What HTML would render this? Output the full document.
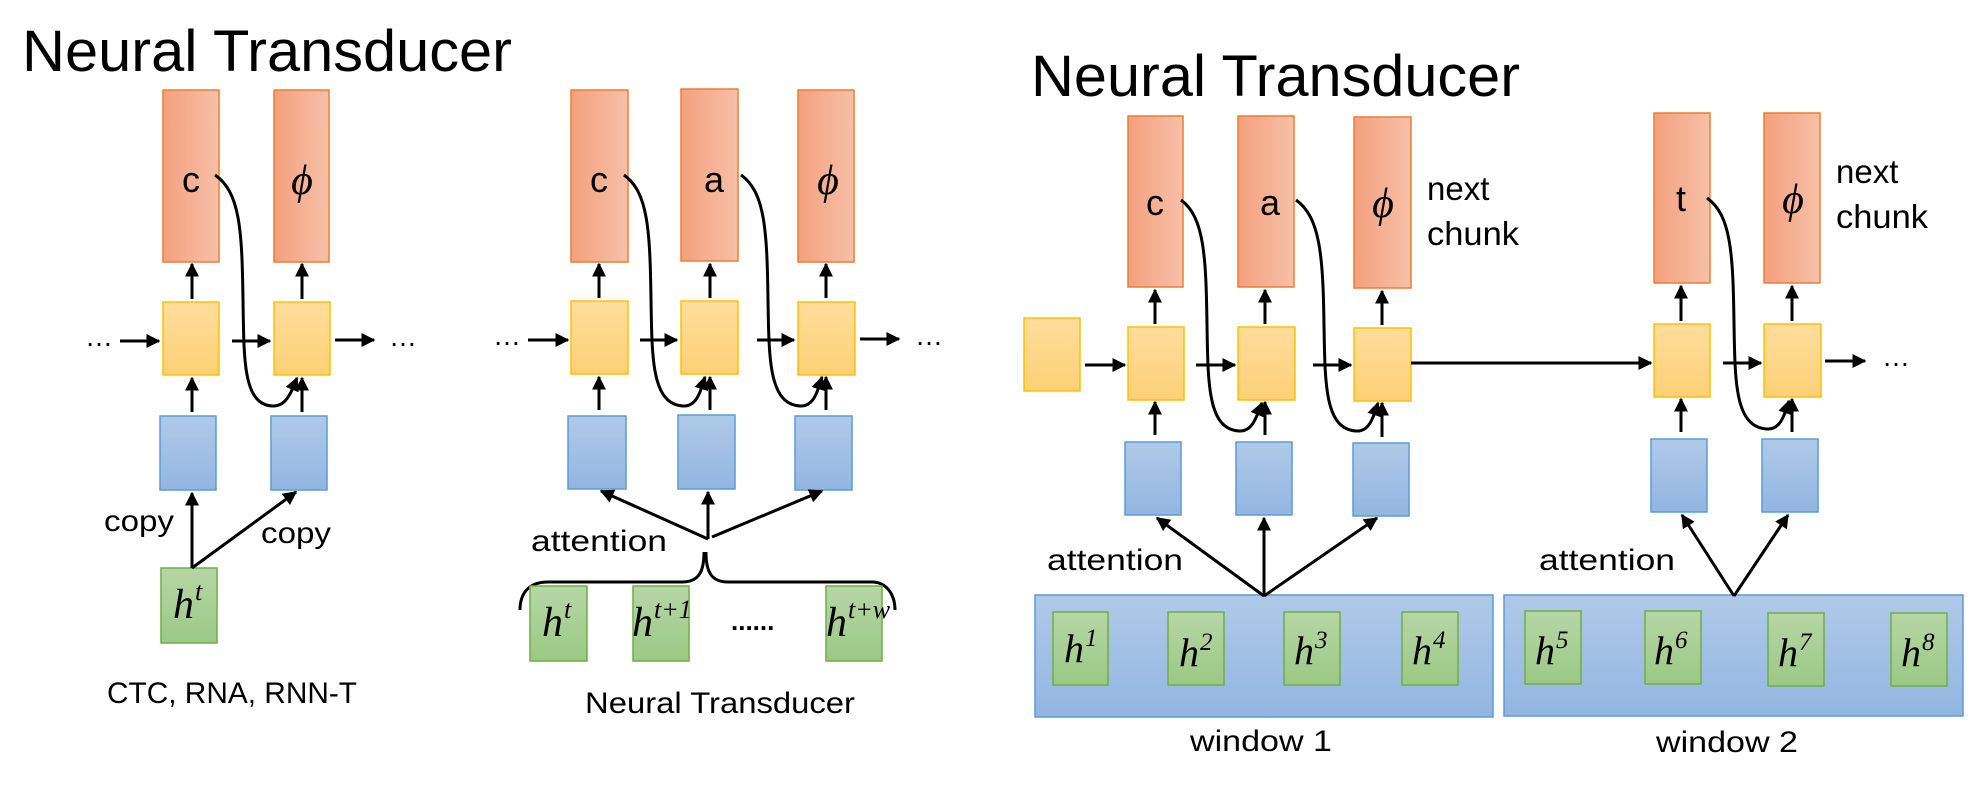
<!DOCTYPE html>
<html><head><meta charset="utf-8"><style>
html,body{margin:0;padding:0;background:#fff;}
svg{display:block}
.s{font-family:"Liberation Sans",sans-serif;fill:#000}
.m{font-family:"Liberation Serif",serif;font-style:italic;fill:#000}
</style></head><body>
<svg width="1972" height="792" viewBox="0 0 1972 792" xmlns="http://www.w3.org/2000/svg">
<defs>
<linearGradient id="go" x1="0" y1="0" x2="1" y2="0"><stop offset="0" stop-color="#f4a07e"/><stop offset="1" stop-color="#f6c0a8"/></linearGradient>
<linearGradient id="gy" x1="0" y1="0" x2="0" y2="1"><stop offset="0" stop-color="#fedd9c"/><stop offset="1" stop-color="#fdd077"/></linearGradient>
<linearGradient id="gb" x1="0" y1="0" x2="0" y2="1"><stop offset="0" stop-color="#b0c9e8"/><stop offset="1" stop-color="#92b6e1"/></linearGradient>
<linearGradient id="gg" x1="0" y1="0" x2="0" y2="1"><stop offset="0" stop-color="#b6d6a6"/><stop offset="1" stop-color="#9bc985"/></linearGradient>
<marker id="a" viewBox="0 0 10 10" refX="9" refY="5" markerWidth="14" markerHeight="14" markerUnits="userSpaceOnUse" orient="auto"><path d="M0,0 L10,5 L0,10 z" fill="#000"/></marker>
<style>
.o{fill:url(#go);stroke:#ed7d31;stroke-width:1.5}
.y{fill:url(#gy);stroke:#ffc000;stroke-width:1.5}
.b{fill:url(#gb);stroke:#5b9bd5;stroke-width:1.5}
.g{fill:url(#gg);stroke:#70ad47;stroke-width:1.5}
.l{stroke:#000;stroke-width:3;fill:none}
.ar{stroke:#000;stroke-width:3;fill:none;marker-end:url(#a)}
</style>
</defs>

<!-- ========== LEFT PANEL ========== -->
<text class="s" x="22" y="71" font-size="58" textLength="490" lengthAdjust="spacingAndGlyphs">Neural Transducer</text>

<rect class="o" x="163" y="90" width="56" height="172"/>
<rect class="o" x="274" y="90" width="55" height="172"/>
<text class="s" x="191" y="192" font-size="36" text-anchor="middle">c</text>
<text class="m" x="302" y="194" font-size="42" text-anchor="middle">ϕ</text>
<rect class="y" x="163" y="302" width="56" height="73"/>
<rect class="y" x="274" y="302" width="56" height="73"/>
<rect class="b" x="160" y="416" width="56" height="74"/>
<rect class="b" x="271" y="416" width="56" height="74"/>
<rect class="g" x="161" y="568" width="56" height="75"/>
<text class="m" x="173" y="618" font-size="42">h</text><text class="m" x="195" y="600" font-size="26">t</text>

<line class="ar" x1="192" y1="299" x2="192" y2="264"/>
<line class="ar" x1="302" y1="299" x2="302" y2="264"/>
<line class="ar" x1="192" y1="412" x2="192" y2="378"/>
<line class="ar" x1="302" y1="412" x2="302" y2="378"/>
<text class="s" x="85" y="346" font-size="28">…</text>
<line class="ar" x1="120" y1="341" x2="159" y2="341"/>
<line class="ar" x1="232" y1="341" x2="270" y2="341"/>
<line class="ar" x1="335" y1="340" x2="374" y2="340"/>
<text class="s" x="389" y="346" font-size="28">…</text>
<path class="ar" d="M215,175 C240,192 242,230 243,300 C244,360 243,404 272,406 C287,407 292,390 297,378"/>
<line class="ar" x1="192" y1="568" x2="192" y2="493"/>
<line class="ar" x1="192" y1="568" x2="296" y2="492"/>
<text class="s" x="104" y="531" font-size="30" textLength="70" lengthAdjust="spacingAndGlyphs">copy</text>
<text class="s" x="261" y="543" font-size="30" textLength="70" lengthAdjust="spacingAndGlyphs">copy</text>
<text class="s" x="107" y="703" font-size="30" textLength="250" lengthAdjust="spacingAndGlyphs">CTC, RNA, RNN-T</text>

<!-- ========== MIDDLE PANEL ========== -->
<rect class="o" x="571" y="90" width="57" height="172"/>
<rect class="o" x="681" y="89" width="57" height="172"/>
<rect class="o" x="798" y="90" width="56" height="172"/>
<text class="s" x="599" y="192" font-size="36" text-anchor="middle">c</text>
<text class="s" x="714" y="192" font-size="36" text-anchor="middle">a</text>
<text class="m" x="828" y="194" font-size="42" text-anchor="middle">ϕ</text>
<rect class="y" x="571" y="301" width="57" height="73"/>
<rect class="y" x="681" y="301" width="57" height="73"/>
<rect class="y" x="798" y="302" width="57" height="73"/>
<rect class="b" x="568" y="416" width="58" height="73"/>
<rect class="b" x="678" y="415" width="57" height="74"/>
<rect class="b" x="795" y="416" width="57" height="74"/>

<line class="ar" x1="599" y1="298" x2="599" y2="264"/>
<line class="ar" x1="710" y1="298" x2="710" y2="264"/>
<line class="ar" x1="826" y1="298" x2="826" y2="264"/>
<line class="ar" x1="599" y1="410" x2="599" y2="377"/>
<line class="ar" x1="710" y1="410" x2="710" y2="377"/>
<line class="ar" x1="826" y1="410" x2="826" y2="377"/>
<text class="s" x="493" y="345" font-size="28">…</text>
<line class="ar" x1="528" y1="340" x2="568" y2="340"/>
<line class="ar" x1="640" y1="340" x2="677" y2="340"/>
<line class="ar" x1="757" y1="340" x2="794" y2="340"/>
<line class="ar" x1="860" y1="339" x2="899" y2="339"/>
<text class="s" x="915" y="345" font-size="28">…</text>
<path class="ar" d="M624,175 C648,192 650,230 651,300 C652,360 652,404 683,406 C697,407 701,390 705,377"/>
<path class="ar" d="M741,175 C765,192 767,230 768,300 C769,360 769,404 800,406 C814,407 818,390 822,377"/>

<line class="ar" x1="708" y1="539" x2="601" y2="491"/>
<line class="ar" x1="708" y1="539" x2="708" y2="492"/>
<line class="ar" x1="712" y1="537" x2="822" y2="491"/>
<text class="s" x="531" y="551" font-size="30" textLength="136" lengthAdjust="spacingAndGlyphs">attention</text>
<path class="l" d="M704,552 C704,570 700,582 682,582 L548,582 C530,582 520,592 520,610"/>
<path class="l" d="M706,552 C706,570 710,582 728,582 L872,582 C886,582 895,594 895,610"/>
<rect class="g" x="530" y="586" width="57" height="75"/>
<rect class="g" x="633" y="586" width="56" height="75"/>
<rect class="g" x="826" y="586" width="56" height="75"/>
<text class="m" x="542" y="636" font-size="42">h</text><text class="m" x="564" y="618" font-size="26">t</text>
<text class="m" x="632" y="636" font-size="42">h</text><text class="m" x="654" y="618" font-size="26">t+1</text>
<text class="s" x="731" y="630" font-size="26" font-weight="bold">......</text>
<text class="m" x="826" y="636" font-size="42">h</text><text class="m" x="848" y="618" font-size="26">t+w</text>
<text class="s" x="585" y="713" font-size="30" textLength="270" lengthAdjust="spacingAndGlyphs">Neural Transducer</text>

<!-- ========== RIGHT PANEL ========== -->
<text class="s" x="1031" y="96" font-size="58" textLength="489" lengthAdjust="spacingAndGlyphs">Neural Transducer</text>

<rect class="o" x="1128" y="116" width="55" height="171"/>
<rect class="o" x="1238" y="116" width="56" height="171"/>
<rect class="o" x="1354" y="117" width="57" height="171"/>
<rect class="o" x="1654" y="113" width="56" height="170"/>
<rect class="o" x="1764" y="113" width="56" height="170"/>
<text class="s" x="1155" y="215" font-size="36" text-anchor="middle">c</text>
<text class="s" x="1270" y="215" font-size="36" text-anchor="middle">a</text>
<text class="m" x="1383" y="217" font-size="42" text-anchor="middle">ϕ</text>
<text class="s" x="1681" y="211" font-size="36" text-anchor="middle">t</text>
<text class="m" x="1793" y="213" font-size="42" text-anchor="middle">ϕ</text>
<text class="s" x="1427" y="200" font-size="33">next</text>
<text class="s" x="1427" y="245" font-size="33" textLength="92" lengthAdjust="spacingAndGlyphs">chunk</text>
<text class="s" x="1836" y="183" font-size="33">next</text>
<text class="s" x="1836" y="228" font-size="33" textLength="92" lengthAdjust="spacingAndGlyphs">chunk</text>

<rect class="y" x="1024" y="318" width="56" height="73"/>
<rect class="y" x="1128" y="327" width="56" height="73"/>
<rect class="y" x="1238" y="327" width="57" height="73"/>
<rect class="y" x="1354" y="328" width="57" height="73"/>
<rect class="y" x="1654" y="324" width="56" height="73"/>
<rect class="y" x="1764" y="324" width="57" height="73"/>
<rect class="b" x="1125" y="442" width="56" height="73"/>
<rect class="b" x="1236" y="442" width="56" height="73"/>
<rect class="b" x="1353" y="443" width="56" height="73"/>
<rect class="b" x="1651" y="439" width="56" height="73"/>
<rect class="b" x="1762" y="439" width="56" height="73"/>

<line class="ar" x1="1155" y1="324" x2="1155" y2="290"/>
<line class="ar" x1="1265" y1="324" x2="1265" y2="290"/>
<line class="ar" x1="1382" y1="325" x2="1382" y2="291"/>
<line class="ar" x1="1681" y1="321" x2="1681" y2="286"/>
<line class="ar" x1="1792" y1="321" x2="1792" y2="286"/>
<line class="ar" x1="1155" y1="435" x2="1155" y2="402"/>
<line class="ar" x1="1265" y1="435" x2="1265" y2="402"/>
<line class="ar" x1="1382" y1="437" x2="1382" y2="403"/>
<line class="ar" x1="1681" y1="432" x2="1681" y2="399"/>
<line class="ar" x1="1792" y1="432" x2="1792" y2="399"/>

<line class="ar" x1="1085" y1="365" x2="1125" y2="365"/>
<line class="ar" x1="1196" y1="365" x2="1235" y2="365"/>
<line class="ar" x1="1313" y1="365" x2="1351" y2="365"/>
<line class="ar" x1="1411" y1="363" x2="1651" y2="363"/>
<line class="ar" x1="1723" y1="363" x2="1761" y2="363"/>
<line class="ar" x1="1825" y1="361" x2="1865" y2="361"/>
<text class="s" x="1882" y="366" font-size="28">…</text>

<path class="ar" d="M1181,200 C1204,217 1206,255 1207,325 C1208,385 1208,429 1239,431 C1253,432 1257,415 1262,403"/>
<path class="ar" d="M1296,200 C1320,217 1323,255 1324,325 C1325,385 1325,429 1356,431 C1370,432 1374,415 1378,403"/>
<path class="ar" d="M1707,198 C1731,215 1733,253 1734,323 C1735,383 1735,427 1767,429 C1781,430 1785,413 1789,401"/>

<rect class="b" x="1035" y="595" width="458" height="122"/>
<rect class="b" x="1504" y="595" width="459" height="121"/>
<line class="ar" x1="1264" y1="596" x2="1157" y2="518"/>
<line class="ar" x1="1264" y1="596" x2="1264" y2="518"/>
<line class="ar" x1="1264" y1="596" x2="1377" y2="518"/>
<line class="ar" x1="1734" y1="596" x2="1682" y2="515"/>
<line class="ar" x1="1734" y1="596" x2="1788" y2="515"/>
<text class="s" x="1047" y="570" font-size="30" textLength="136" lengthAdjust="spacingAndGlyphs">attention</text>
<text class="s" x="1539" y="570" font-size="30" textLength="136" lengthAdjust="spacingAndGlyphs">attention</text>

<rect class="g" x="1053" y="612" width="55" height="73"/>
<rect class="g" x="1168" y="612" width="56" height="73"/>
<rect class="g" x="1284" y="612" width="56" height="73"/>
<rect class="g" x="1402" y="612" width="56" height="73"/>
<rect class="g" x="1525" y="611" width="56" height="73"/>
<rect class="g" x="1645" y="611" width="56" height="73"/>
<rect class="g" x="1768" y="613" width="56" height="73"/>
<rect class="g" x="1891" y="613" width="56" height="73"/>
<text class="m" x="1064" y="662" font-size="40">h</text><text class="m" x="1085" y="646" font-size="25">1</text>
<text class="m" x="1179" y="666" font-size="40">h</text><text class="m" x="1200" y="650" font-size="25">2</text>
<text class="m" x="1294" y="664" font-size="40">h</text><text class="m" x="1315" y="648" font-size="25">3</text>
<text class="m" x="1412" y="664" font-size="40">h</text><text class="m" x="1433" y="648" font-size="25">4</text>
<text class="m" x="1535" y="664" font-size="40">h</text><text class="m" x="1556" y="648" font-size="25">5</text>
<text class="m" x="1654" y="664" font-size="40">h</text><text class="m" x="1675" y="648" font-size="25">6</text>
<text class="m" x="1778" y="666" font-size="40">h</text><text class="m" x="1799" y="650" font-size="25">7</text>
<text class="m" x="1901" y="666" font-size="40">h</text><text class="m" x="1922" y="650" font-size="25">8</text>
<text class="s" x="1190" y="751" font-size="30" textLength="142" lengthAdjust="spacingAndGlyphs">window 1</text>
<text class="s" x="1656" y="752" font-size="30" textLength="142" lengthAdjust="spacingAndGlyphs">window 2</text>
</svg>
</body></html>
